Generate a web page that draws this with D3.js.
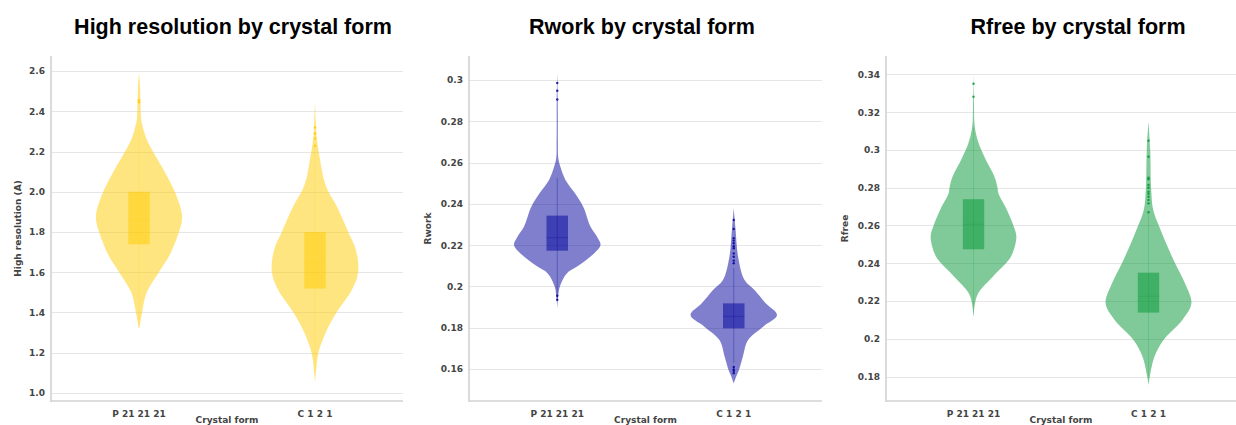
<!DOCTYPE html>
<html>
<head>
<meta charset="utf-8">
<script src="https://cdn.jsdelivr.net/npm/d3@7"></script>
<style>
  html, body { margin: 0; padding: 0; background: #fff; }
  svg { display: block; }
</style>
</head>
<body>
<svg id="chart" width="1236" height="425"></svg>
<script>
// ---------------- DATA ----------------
const categories = ["P 21 21 21", "C 1 2 1"];

const titles = ["High resolution by crystal form", "Rwork by crystal form", "Rfree by crystal form"];
const yTitles = ["High resolution (A)", "Rwork", "Rfree"];
const xTitle = "Crystal form";

// y tick values and labels
const hiresTicks = [1.0, 1.2, 1.4, 1.6, 1.8, 2.0, 2.2, 2.4, 2.6];
const hiresTickLabels = ["1.0", "1.2", "1.4", "1.6", "1.8", "2.0", "2.2", "2.4", "2.6"];
const rworkTicks = [0.16, 0.18, 0.2, 0.22, 0.24, 0.26, 0.28, 0.3];
const rworkTickLabels = ["0.16", "0.18", "0.2", "0.22", "0.24", "0.26", "0.28", "0.3"];
const rfreeTicks = [0.18, 0.2, 0.22, 0.24, 0.26, 0.28, 0.3, 0.32, 0.34];
const rfreeTickLabels = ["0.18", "0.2", "0.22", "0.24", "0.26", "0.28", "0.3", "0.32", "0.34"];

// violin density profiles: [value, relative width]
const hiresDensityP = [[2.59,0],[2.54,0.02],[2.45,0.035],[2.36,0.05],[2.32,0.09],[2.26,0.18],[2.19,0.35],[2.09,0.62],[1.99,0.85],[1.876,1.0],[1.79,0.91],[1.69,0.72],[1.60,0.46],[1.50,0.18],[1.40,0.07],[1.35,0.03],[1.315,0]];
const hiresDensityC = [[2.45,0],[2.34,0.02],[2.25,0.05],[2.17,0.11],[2.075,0.19],[2.01,0.29],[1.93,0.5],[1.80,0.77],[1.71,0.95],[1.60,1.0],[1.51,0.85],[1.40,0.5],[1.31,0.27],[1.20,0.08],[1.10,0.02],[1.05,0]];
const rworkDensityP = [[0.3035,0],[0.29,0.012],[0.27,0.015],[0.262,0.025],[0.2575,0.08],[0.2516,0.19],[0.2451,0.41],[0.2386,0.6],[0.2289,0.77],[0.2241,0.92],[0.2201,1.0],[0.2160,0.85],[0.2128,0.67],[0.2095,0.45],[0.2063,0.22],[0.2,0.06],[0.195,0.02],[0.1895,0]];
const rworkDensityC = [[0.2378,0],[0.228,0.04],[0.2144,0.1],[0.2031,0.25],[0.1983,0.48],[0.1918,0.74],[0.1861,1.0],[0.1805,0.68],[0.174,0.33],[0.1659,0.21],[0.1595,0.12],[0.156,0.05],[0.153,0]];
const rfreeDensityP = [[0.3405,0],[0.325,0.012],[0.3123,0.03],[0.3035,0.12],[0.2947,0.29],[0.2858,0.49],[0.28,0.56],[0.277,0.58],[0.2682,0.78],[0.26,0.93],[0.2541,1.0],[0.2453,0.91],[0.2417,0.82],[0.2329,0.45],[0.2241,0.11],[0.218,0.03],[0.211,0]];
const rfreeDensityC = [[0.315,0],[0.30,0.04],[0.28,0.06],[0.2682,0.11],[0.2594,0.25],[0.2506,0.41],[0.24,0.62],[0.2294,0.85],[0.2188,1.0],[0.21,0.79],[0.1994,0.35],[0.1906,0.14],[0.18,0.03],[0.1756,0]];

// box stats: [q1, median, q3]
const hiresBoxP = [1.739, 1.86, 2.0];
const hiresBoxC = [1.519, 1.65, 1.8];
const rworkBoxP = [0.2173, 0.2236, 0.2343];
const rworkBoxC = [0.1797, 0.1855, 0.1918];
const rfreeBoxP = [0.2474, 0.2606, 0.2739];
const rfreeBoxC = [0.2139, 0.2225, 0.235];

// whiskers: [low, high]
const hiresWhiskerP = [1.33, 2.33];
const hiresWhiskerC = [1.1, 2.2];
const rworkWhiskerP = [0.193, 0.2525];
const rworkWhiskerC = [0.163, 0.209];
const rfreeWhiskerP = [0.213, 0.312];
const rfreeWhiskerC = [0.18, 0.266];

// outlier points
const hiresOutliersP = [2.455, 2.445];
const hiresOutliersC = [2.32, 2.29, 2.265, 2.229];
const rworkOutliersP = [0.2985, 0.2948, 0.2905, 0.1955, 0.1935];
const rworkOutliersC = [0.2322, 0.2278, 0.2233, 0.2222, 0.2209, 0.2195, 0.2185, 0.216, 0.2144, 0.2125, 0.2112, 0.161, 0.1598, 0.159, 0.158];
const rfreeOutliersP = [0.335, 0.3281];
const rfreeOutliersC = [0.3049, 0.2964, 0.2853, 0.2845, 0.2814, 0.28, 0.2779, 0.2768, 0.2752, 0.2735, 0.2717, 0.267];

// ---------------- LAYOUT ----------------
const svg = d3.select("#chart");
const plotTop = 56, plotBottom = 401;

const panels = [
  { left: 51, right: 403, domain: [0.960, 2.675], ticks: hiresTicks, labels: hiresTickLabels,
    rgb: [255, 203, 0], titleX: 233, yTitleX: 18, whA: 0.15, medA: 0.15,
    violins: [
      { dens: hiresDensityP, box: hiresBoxP, wh: hiresWhiskerP, out: hiresOutliersP },
      { dens: hiresDensityC, box: hiresBoxC, wh: hiresWhiskerC, out: hiresOutliersC } ] },
  { left: 469, right: 822, domain: [0.1445, 0.3116], ticks: rworkTicks, labels: rworkTickLabels,
    rgb: [0, 0, 155], titleX: 642, yTitleX: 428, whA: 0.3, medA: 0.25,
    violins: [
      { dens: rworkDensityP, box: rworkBoxP, wh: rworkWhiskerP, out: rworkOutliersP },
      { dens: rworkDensityC, box: rworkBoxC, wh: rworkWhiskerC, out: rworkOutliersC } ] },
  { left: 886, right: 1236, domain: [0.1671, 0.3497], ticks: rfreeTicks, labels: rfreeTickLabels,
    rgb: [0, 150, 50], titleX: 1078, yTitleX: 845, whA: 0.18, medA: 0.15,
    violins: [
      { dens: rfreeDensityP, box: rfreeBoxP, wh: rfreeWhiskerP, out: rfreeOutliersP },
      { dens: rfreeDensityC, box: rfreeBoxC, wh: rfreeWhiskerC, out: rfreeOutliersC } ] }
];

const tickFont = "DejaVu Sans, Verdana, sans-serif";

panels.forEach((p, i) => {
  const x = d3.scaleBand().domain(categories).range([p.left, p.right]);
  const y = d3.scaleLinear().domain(p.domain).range([plotBottom, plotTop]);
  const col = a => `rgba(${p.rgb[0]},${p.rgb[1]},${p.rgb[2]},${a})`;
  const g = svg.append("g");

  // gridlines
  g.append("g").selectAll("line").data(p.ticks).join("line")
    .attr("x1", p.left).attr("x2", p.right)
    .attr("y1", d => Math.round(y(d)) + 0.5).attr("y2", d => Math.round(y(d)) + 0.5)
    .attr("stroke", "#e6e6e6").attr("stroke-width", 1);

  // violins
  const hw = x.bandwidth() * 0.245;
  const bw = x.bandwidth() * 0.122;
  p.violins.forEach((v, k) => {
    const cx = x(categories[k]) + x.bandwidth() / 2;
    const area = d3.area()
      .y(d => y(d[0]))
      .x0(d => cx - d[1] * hw)
      .x1(d => cx + d[1] * hw)
      .curve(d3.curveCatmullRom.alpha(0.5));
    g.append("path").datum(v.dens).attr("d", area)
      .attr("fill", col(0.5)).attr("stroke", "none");
    // whisker
    g.append("line").attr("x1", cx).attr("x2", cx)
      .attr("y1", y(v.wh[0])).attr("y2", y(v.wh[1]))
      .attr("stroke", col(p.whA)).attr("stroke-width", 1);
    // box
    g.append("rect").attr("x", cx - bw / 2).attr("width", bw)
      .attr("y", y(v.box[2])).attr("height", y(v.box[0]) - y(v.box[2]))
      .attr("fill", col(0.5));
    // median
    g.append("line").attr("x1", cx - bw / 2).attr("x2", cx + bw / 2)
      .attr("y1", y(v.box[1])).attr("y2", y(v.box[1]))
      .attr("stroke", col(p.medA)).attr("stroke-width", 1);
    // outliers
    g.append("g").selectAll("circle").data(v.out).join("circle")
      .attr("cx", cx).attr("cy", d => y(d)).attr("r", 1.2)
      .attr("fill", col(0.85));
  });

  // axis lines
  g.append("line").attr("x1", p.left).attr("x2", p.left).attr("y1", plotTop).attr("y2", plotBottom + 1)
    .attr("stroke", "#d2d2d2").attr("stroke-width", 1.6);
  g.append("line").attr("x1", p.left).attr("x2", p.right).attr("y1", plotBottom).attr("y2", plotBottom)
    .attr("stroke", "#d2d2d2").attr("stroke-width", 1.6);

  // y axis labels
  const yAxis = d3.axisLeft(y).tickValues(p.ticks)
    .tickFormat((d, j) => p.labels[j]).tickSize(0).tickPadding(6);
  const ya = g.append("g").attr("transform", `translate(${p.left},0)`).call(yAxis);
  ya.select(".domain").remove();
  ya.selectAll("text").attr("font-family", tickFont).attr("font-size", 9)
    .attr("font-weight", "bold").attr("fill", "#444");

  // x axis labels
  const xAxis = d3.axisBottom(x).tickSize(0).tickPadding(10);
  const xa = g.append("g").attr("transform", `translate(0,${plotBottom})`).call(xAxis);
  xa.select(".domain").remove();
  xa.selectAll("text").attr("font-family", tickFont).attr("font-size", 9)
    .attr("font-weight", "bold").attr("fill", "#444");

  // x title
  g.append("text").attr("x", (p.left + p.right) / 2).attr("y", 423)
    .attr("text-anchor", "middle").attr("font-family", tickFont).attr("font-size", 9)
    .attr("font-weight", "bold").attr("fill", "#444").text(xTitle);

  // y title
  g.append("text").attr("transform", `translate(${p.yTitleX},${(plotTop + plotBottom) / 2}) rotate(-90)`)
    .attr("text-anchor", "middle").attr("dy", "0.35em").attr("font-family", tickFont)
    .attr("font-size", 9).attr("font-weight", "bold").attr("fill", "#444").text(yTitles[i]);

  // title
  svg.append("text").attr("x", p.titleX).attr("y", 34).attr("text-anchor", "middle")
    .attr("font-family", "Liberation Sans, Arial, sans-serif").attr("font-size", 21.5)
    .attr("font-weight", "bold").attr("fill", "#000").text(titles[i]);
});
</script>
</body>
</html>
